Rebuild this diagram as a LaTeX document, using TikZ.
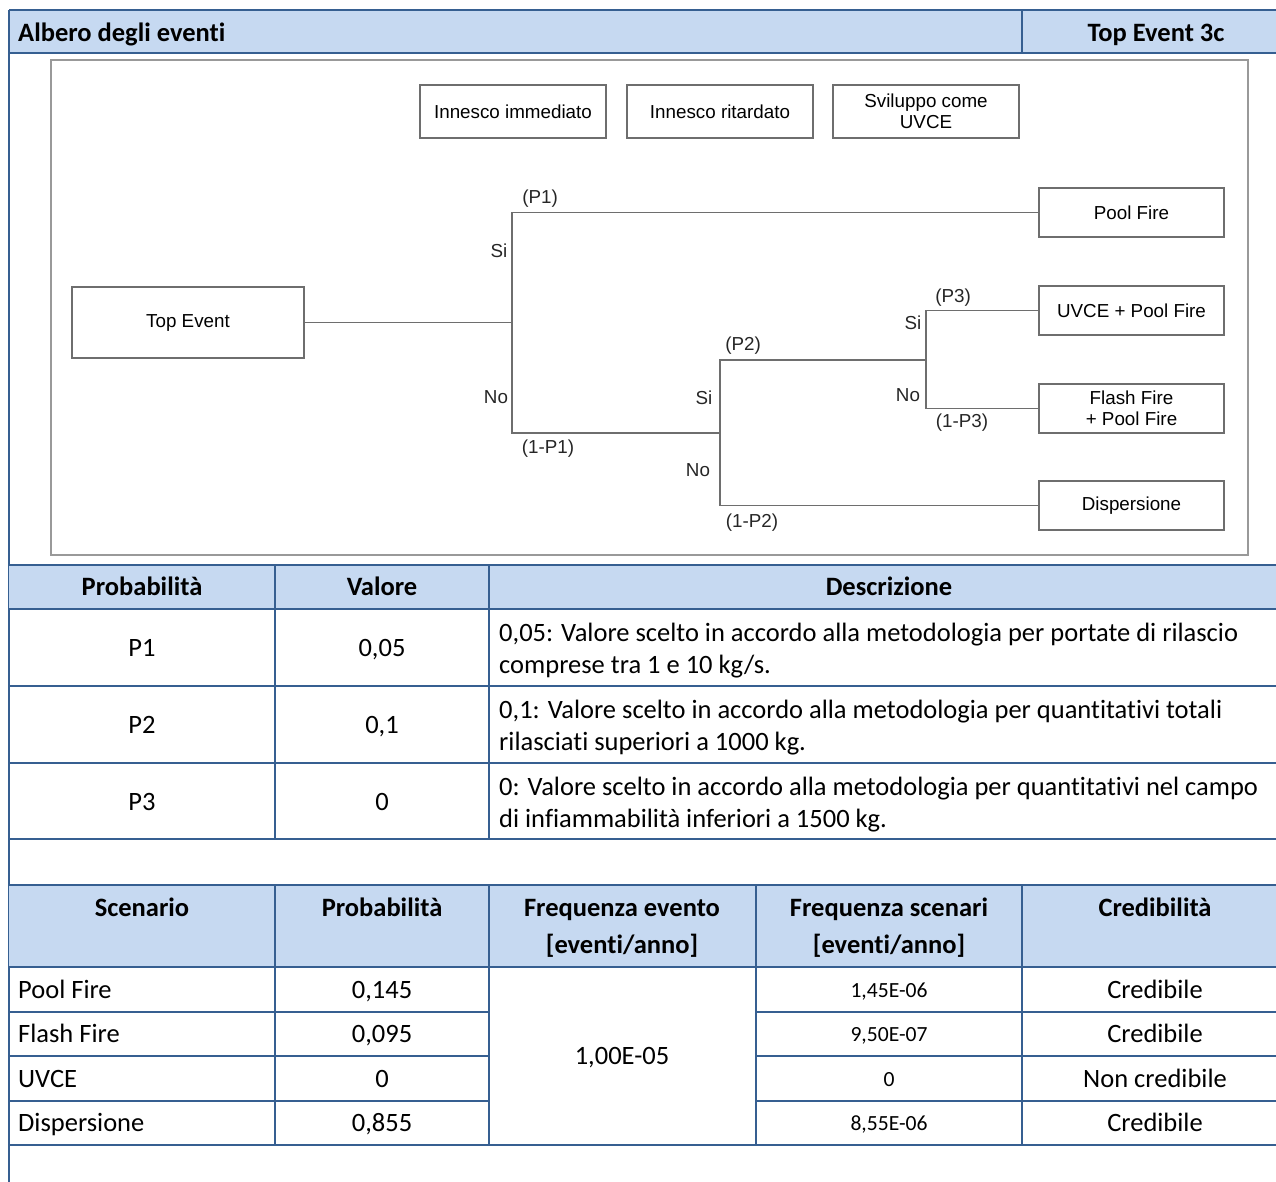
\documentclass[tikz,border=0pt]{standalone}
\usepackage{fontspec}
\setmainfont{Carlito}[Ligatures={NoCommon,NoRare}]
\newfontfamily\treefont{Liberation Sans}
\usetikzlibrary{positioning}
\definecolor{tabline}{RGB}{54,95,145}
\definecolor{tabfill}{RGB}{198,217,241}
\definecolor{treegray}{RGB}{110,110,110}

\tikzset{
  evbox/.style={draw=treegray, line width=1.3pt, minimum width=185pt, minimum height=49pt,
    align=center, inner sep=0pt, font=\treefont\fontsize{18.8}{21}\selectfont},
  branch/.style={draw=treegray, line width=1.6pt},
  blab/.style={inner sep=0pt, text=black!85, text height=13.5pt, text depth=0pt,
    font=\treefont\fontsize{18.8}{21}\selectfont},
  grid/.style={draw=tabline, line width=2pt},
  cell/.style={inner sep=0pt, text height=17pt, text depth=0pt, font=\fontsize{26.5}{32}\selectfont},
  desc/.style={inner sep=0pt, anchor=west, align=left, font=\fontsize{26.5}{32}\selectfont},
  hcell/.style={inner sep=0pt, text height=17pt, text depth=0pt, font=\bfseries\fontsize{26.5}{37}\selectfont},
  hcell2/.style={inner sep=0pt, align=center, font=\bfseries\fontsize{26.5}{37}\selectfont},
  smallcell/.style={inner sep=0pt, text height=14pt, text depth=0pt, font=\fontsize{21.6}{26}\selectfont},
}

\begin{document}
\begin{tikzpicture}[x=1pt, y=-1pt]
\useasboundingbox (0,0) rectangle (1276,1182);

% titolo
\fill[tabfill] (9,10) rectangle (1276,53);
\draw[grid] (9,10) -- (1276,10) (9,53) -- (1276,53) (1022,10) -- (1022,53);
\draw[grid] (9,10) -- (9,1182);
\node[hcell, anchor=west] (title) at (18,33) {Albero degli eventi};
\node[hcell] (topev) at (1156,33) {Top Event 3c};

% albero degli eventi
\draw[draw=gray!80, line width=1.2pt] (51,60) rectangle (1248,555);
\node[evbox, minimum width=186pt, minimum height=53pt] (inn1) at (513,111.5) {Innesco immediato};
\node[evbox, minimum width=186pt, minimum height=53pt] (inn2) at (720,111.5) {Innesco ritardato};
\node[evbox, minimum width=186pt, minimum height=53pt] (svil) at (926,111.5) {Sviluppo come\\UVCE};

\node[evbox, minimum width=232pt, minimum height=71pt] (top) at (188,322.5) {Top Event};
\node[evbox] (pool)  at (1131.5,212.5) {Pool Fire};
\node[evbox] (uvce)  at (1131.5,310.5) {UVCE + Pool Fire};
\node[evbox] (flash) at (1131.5,408.5) {Flash Fire\\+ Pool Fire};
\node[evbox] (disp)  at (1131.5,505.5) {Dispersione};

\coordinate (j1) at (512,322.5);
\coordinate (j2) at (720,433);
\coordinate (j3) at (926,360);

\draw[branch] (top.east) -- (j1);
\draw[branch] (j1) |- (pool.west);
\draw[branch] (j1) |- (j2);
\draw[branch] (j2) |- (j3);
\draw[branch] (j2) |- (disp.west);
\draw[branch] (j3) |- (uvce.west);
\draw[branch] (j3) |- (flash.west);

\node[blab] (p1)   at (540,197) {(P1)};
\node[blab] (si1)  at (499,251) {Si};
\node[blab] (no1)  at (496,397) {No};
\node[blab] (np1)  at (548,447) {(1-P1)};
\node[blab] (p2)   at (743,344) {(P2)};
\node[blab] (si2)  at (704,398) {Si};
\node[blab] (no2)  at (698,470) {No};
\node[blab] (np2)  at (752,521) {(1-P2)};
\node[blab] (p3)   at (953,296) {(P3)};
\node[blab] (si3)  at (913,323) {Si};
\node[blab] (no3)  at (908,395) {No};
\node[blab] (np3)  at (962,421) {(1-P3)};

% tabella probabilita
\fill[tabfill] (9,565) rectangle (1276,609);
\foreach \y in {565,609,686,763,839}
  \draw[grid] (9,\y) -- (1276,\y);
\foreach \x in {275,489}
  \draw[grid] (\x,565) -- (\x,839);
\node[hcell] (hprob) at (142,587) {Probabilità};
\node[hcell] (hval)  at (382,587) {Valore};
\node[hcell] (hdesc) at (889,587) {Descrizione};

\node[cell] (pa) at (142,648) {P1};
\node[cell] (va) at (382,648) {0,05};
\node[desc] (da) at (499,651)
  {0,05: Valore scelto in accordo alla metodologia per portate di rilascio\\comprese tra 1 e 10 kg/s.};
\node[cell] (pb) at (142,725) {P2};
\node[cell] (vb) at (382,725) {0,1};
\node[desc] (db) at (499,728)
  {0,1: Valore scelto in accordo alla metodologia per quantitativi totali\\rilasciati superiori a 1000 kg.};
\node[cell] (pc) at (142,802) {P3};
\node[cell] (vc) at (382,802) {0};
\node[desc] (dc) at (499,805)
  {0: Valore scelto in accordo alla metodologia per quantitativi nel campo\\di infiammabilità inferiori a 1500 kg.};

% tabella scenari
\fill[tabfill] (9,885) rectangle (1276,967);
\foreach \y in {885,967,1145}
  \draw[grid] (9,\y) -- (1276,\y);
\foreach \y in {1012,1056,1101}
  \draw[grid] (9,\y) -- (489,\y) (756,\y) -- (1276,\y);
\foreach \x in {275,489,756,1022}
  \draw[grid] (\x,885) -- (\x,1145);
\node[hcell]  (hscen)  at (142,908)  {Scenario};
\node[hcell]  (hprob2) at (382,908)  {Probabilità};
\node[hcell2] (hfev)   at (622,928)  {Frequenza evento\\{}[eventi/anno]};
\node[hcell2] (hfsc)   at (889,928)  {Frequenza scenari\\{}[eventi/anno]};
\node[hcell]  (hcred)  at (1155,908) {Credibilità};

\node[cell, anchor=west] (sa) at (18,990)  {Pool Fire};
\node[cell, anchor=west] (sb) at (18,1034) {Flash Fire};
\node[cell, anchor=west] (sc) at (18,1079) {UVCE};
\node[cell, anchor=west] (sd) at (18,1123) {Dispersione};
\node[cell] (qa) at (382,990)  {0,145};
\node[cell] (qb) at (382,1034) {0,095};
\node[cell] (qc) at (382,1079) {0};
\node[cell] (qd) at (382,1123) {0,855};
\node[cell] (fev) at (622,1056) {1,00E-05};
\node[smallcell] (fa) at (889,990)  {1,45E-06};
\node[smallcell] (fb) at (889,1034) {9,50E-07};
\node[smallcell] (fc) at (889,1079) {0};
\node[smallcell] (fd) at (889,1123) {8,55E-06};
\node[cell] (ca) at (1155,990)  {Credibile};
\node[cell] (cb) at (1155,1034) {Credibile};
\node[cell] (cc) at (1155,1079) {Non credibile};
\node[cell] (cd) at (1155,1123) {Credibile};
\end{tikzpicture}
\end{document}
